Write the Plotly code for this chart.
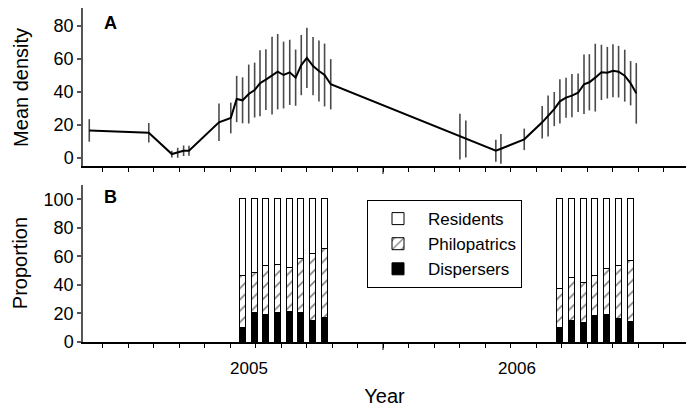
import plotly.graph_objects as go

# Sampling occasions (decimal years) with mean density and its standard error
density_time = [2004.904, 2005.126, 2005.212, 2005.234, 2005.256, 2005.276, 2005.388,
                2005.432, 2005.454, 2005.476, 2005.499, 2005.521, 2005.541, 2005.563,
                2005.586, 2005.607, 2005.629, 2005.652, 2005.674, 2005.695, 2005.716,
                2005.739, 2005.761, 2005.782, 2005.805,
                2006.287, 2006.309, 2006.421, 2006.440, 2006.527,
                2006.594, 2006.616, 2006.639, 2006.660, 2006.683, 2006.705, 2006.728,
                2006.750, 2006.770, 2006.792, 2006.815, 2006.837, 2006.858, 2006.879,
                2006.902, 2006.924, 2006.945]
density_mean = [16.7, 15.3, 2.4, 3.2, 4.4, 4.4, 21.6,
                24.2, 35.7, 34.9, 38.7, 41.1, 45.2, 47.4,
                49.8, 52.2, 50.2, 51.8, 48.6, 56.2, 60.6,
                55.6, 52.6, 50.2, 44.6,
                12.9, 11.5, 4.4, 5.6, 11.3,
                21.6, 25.4, 29.6, 34.3, 36.5, 37.7, 39.5,
                44.6, 45.8, 48.6, 51.8, 51.6, 52.8, 52.2,
                49.8, 45.2, 39.1]
density_se = [6.8, 5.9, 2.0, 3.0, 3.2, 3.0, 11.3,
              9.3, 14.0, 13.9, 17.8, 16.6, 20.0, 18.4,
              23.5, 22.8, 20.2, 19.7, 17.0, 18.2, 18.2,
              17.6, 18.4, 19.0, 15.2,
              13.8, 11.2, 6.6, 9.0, 6.5,
              9.8, 12.4, 10.3, 13.4, 12.1, 13.1, 11.6,
              18.0, 17.0, 20.5, 16.7, 15.6, 16.0, 15.6,
              15.7, 13.4, 18.3]

# Composition of captured animals (%) on alternate sampling occasions
bar_time = [2005.476, 2005.521, 2005.563, 2005.607, 2005.652, 2005.695, 2005.739, 2005.782,
            2006.660, 2006.705, 2006.750, 2006.792, 2006.837, 2006.879, 2006.924]
dispersers = [10, 20, 19, 20, 21, 20, 15, 17,
              10, 15, 13, 18, 19, 16, 14]
philopatrics = [36, 28, 34, 34, 31, 38, 47, 48,
                27, 30, 28, 28, 32, 37, 43]
residents = [54, 52, 47, 46, 48, 42, 38, 35,
             63, 55, 59, 54, 49, 47, 43]

year_labels = ["2005", "2006"]
year_label_pos = [2005.5, 2006.5]
year_break = 2006.0
x_range = [2004.8806, 2007.1306]

FONT = "Arial, 'Liberation Sans', sans-serif"

fig = go.Figure()

fig.add_trace(go.Scatter(
    x=density_time, y=density_mean, mode="lines",
    line=dict(color="black", width=2),
    error_y=dict(type="data", array=density_se, color="#4a4a4a", thickness=1.6, width=0),
    xaxis="x", yaxis="y", showlegend=False, hoverinfo="skip",
))

bar_specs = [
    ("Dispersers", dispersers, "black", ""),
    ("Philopatrics", philopatrics, "white", "/"),
    ("Residents", residents, "white", ""),
]
for name, vals, col, pat in bar_specs:
    fig.add_trace(go.Bar(
        x=bar_time, y=vals, name=name, width=0.0224,
        marker=dict(color=col, line=dict(color="black", width=1),
                    pattern=dict(shape=pat, fgcolor="black", bgcolor=col,
                                 size=8, solidity=0.2)),
        xaxis="x2", yaxis="y2",
    ))

minor_ticks = dict(ticks="outside", tick0=year_break, dtick=0.09515,
                   ticklen=4, tickwidth=1, tickcolor="black", showgrid=False)

common_x = dict(range=x_range, showline=True, linecolor="black", linewidth=2,
                ticks="", tickvals=year_label_pos, ticktext=year_labels,
                showgrid=False, zeroline=False, minor=minor_ticks)

common_y = dict(showline=True, linecolor="#555555", linewidth=1.5,
                ticks="outside", ticklen=4, tickcolor="#555555", tickwidth=1.5,
                showgrid=False, zeroline=False,
                tickfont=dict(size=18, color="black"))

axis_title_font = dict(size=20)

fig.update_layout(
    width=686, height=407,
    margin=dict(l=83, r=0, t=8, b=65),
    paper_bgcolor="white", plot_bgcolor="white",
    font=dict(family=FONT, color="black"),
    barmode="stack", bargap=0,
    xaxis=dict(domain=[0, 1], anchor="y", showticklabels=False, **common_x),
    xaxis2=dict(domain=[0, 1], anchor="y2", showticklabels=True,
                tickfont=dict(size=17), ticklabelstandoff=10,
                title=dict(text="Year", font=axis_title_font, standoff=13),
                **common_x),
    yaxis=dict(domain=[0.527, 1], anchor="x", range=[-4.8, 90.7],
               tickvals=[0, 20, 40, 60, 80], **common_y),
    yaxis2=dict(domain=[0, 0.470], anchor="x2", range=[0, 110],
                tickvals=[0, 20, 40, 60, 80, 100], **common_y),
    legend=dict(x=0.471, y=0.425, xref="paper", yref="paper",
                xanchor="left", yanchor="top",
                bordercolor="black", borderwidth=1, bgcolor="white",
                font=dict(size=17), traceorder="reversed",
                itemwidth=50, tracegroupgap=0),
    shapes=[
        dict(type="line", xref="x", yref="y domain", x0=year_break, x1=year_break,
             y0=0, y1=-8 / 158, line=dict(color="black", width=1)),
        dict(type="line", xref="x2", yref="y2 domain", x0=year_break, x1=year_break,
             y0=0, y1=-8 / 157, line=dict(color="black", width=1)),
    ],
    annotations=[
        dict(text="Mean density", xref="paper", yref="y domain", x=-0.103, y=0.5,
             xanchor="center", yanchor="middle", textangle=-90, showarrow=False,
             font=axis_title_font),
        dict(text="Proportion", xref="paper", yref="y2 domain", x=-0.105, y=0.5,
             xanchor="center", yanchor="middle", textangle=-90, showarrow=False,
             font=axis_title_font),
        dict(text="<b>A</b>", xref="x domain", yref="y domain", x=0.031, y=0.905,
             xanchor="left", yanchor="middle", showarrow=False, font=dict(size=18)),
        dict(text="<b>B</b>", xref="x2 domain", yref="y2 domain", x=0.031, y=0.924,
             xanchor="left", yanchor="middle", showarrow=False, font=dict(size=18)),
    ],
)

fig.write_html("out.html")
